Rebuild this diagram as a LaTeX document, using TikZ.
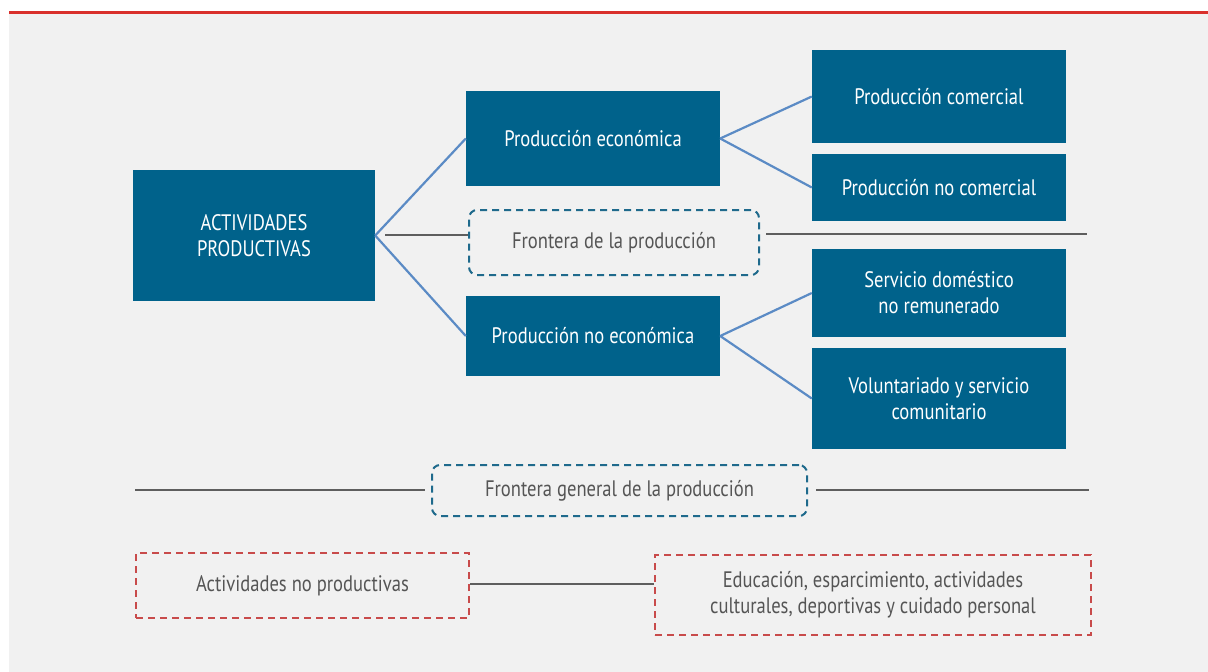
\documentclass[tikz,border=0pt]{standalone}
\usepackage{fontspec}
\setmainfont{PT Sans}[FakeStretch=0.83]
\definecolor{bg}{HTML}{F1F1F1}
\definecolor{topred}{HTML}{D9302C}
\definecolor{boxblue}{HTML}{00628B}
\definecolor{linkblue}{HTML}{5B8BC5}
\definecolor{dashblue}{HTML}{1F6A8C}
\definecolor{dashred}{HTML}{C84B4B}
\definecolor{txtgray}{HTML}{555555}
\definecolor{linegray}{HTML}{5E5E5E}
\begin{document}
\begin{tikzpicture}[x=1pt,y=-1pt,
  bluebox/.style={fill=boxblue,text=white,draw=none,inner sep=0pt,align=center,font=\fontsize{22.4}{26}\selectfont},
  bluedash/.style={draw=dashblue,line width=2pt,dash pattern=on 7pt off 5pt,rounded corners=8pt,text=txtgray,inner sep=0pt,align=center,font=\fontsize{22.4}{26}\selectfont},
  reddash/.style={draw=dashred,line width=2pt,dash pattern=on 7pt off 5pt,text=txtgray,inner sep=0pt,align=center,font=\fontsize{22.4}{26}\selectfont},
  link/.style={draw=linkblue,line width=2.2pt},
  rule/.style={draw=linegray,line width=2pt}]
\useasboundingbox (0,0) rectangle (1208,672);
\fill[white] (0,0) rectangle (1208,672);
\fill[bg] (9,14) rectangle (1208,672);
\draw[topred,line width=3pt] (9,12.5) -- (1208,12.5);

\node[bluebox,minimum width=242pt,minimum height=131pt] (act) at (254,235.5) {ACTIVIDADES\\PRODUCTIVAS};
\node[bluebox,minimum width=254pt,minimum height=95pt] (econ) at (593,138.5) {Producción económica};
\node[bluebox,minimum width=254pt,minimum height=80pt] (noecon) at (593,336) {Producción no económica};
\node[bluebox,minimum width=254pt,minimum height=93pt] (com) at (939,96.5) {Producción comercial};
\node[bluebox,minimum width=254pt,minimum height=67pt] (nocom) at (939,187.5) {Producción no comercial};
\node[bluebox,minimum width=254pt,minimum height=88pt] (dom) at (939,293) {Servicio doméstico\\no remunerado};
\node[bluebox,minimum width=254pt,minimum height=101pt] (vol) at (939,398.5) {Voluntariado y servicio\\comunitario};

\node[bluedash,minimum width=290pt,minimum height=65pt] (front) at (614,242.5) {Frontera de la producción};
\node[bluedash,minimum width=375pt,minimum height=51pt] (gen) at (619.5,490.5) {Frontera general de la producción};
\node[reddash,minimum width=333pt,minimum height=65pt] (noprod) at (302.5,585.5) {Actividades no productivas};
\node[reddash,minimum width=436pt,minimum height=80pt] (edu) at (873,595) {Educación, esparcimiento, actividades\\culturales, deportivas y cuidado personal};

\draw[link] (act.east) -- (econ.west);
\draw[link] (act.east) -- (noecon.west);
\draw[link] (econ.east) -- (com.west);
\draw[link] (econ.east) -- (nocom.west);
\draw[link] (noecon.east) -- (dom.west);
\draw[link] (noecon.east) -- (vol.west);

\coordinate (fl) at (385,235);
\coordinate (fr) at (1087,234);
\coordinate (gl) at (135,490);
\coordinate (gr) at (1089,490);
\draw[rule] (fl) -- (front.west |- fl);
\draw[rule] ([xshift=6pt]front.east |- fr) -- (fr);
\draw[rule] (gl) -- ([xshift=-6pt]gen.west |- gl);
\draw[rule] ([xshift=8pt]gen.east |- gr) -- (gr);
\draw[rule] (noprod.east |- 0,584) -- (edu.west |- 0,584);
\end{tikzpicture}
\end{document}
